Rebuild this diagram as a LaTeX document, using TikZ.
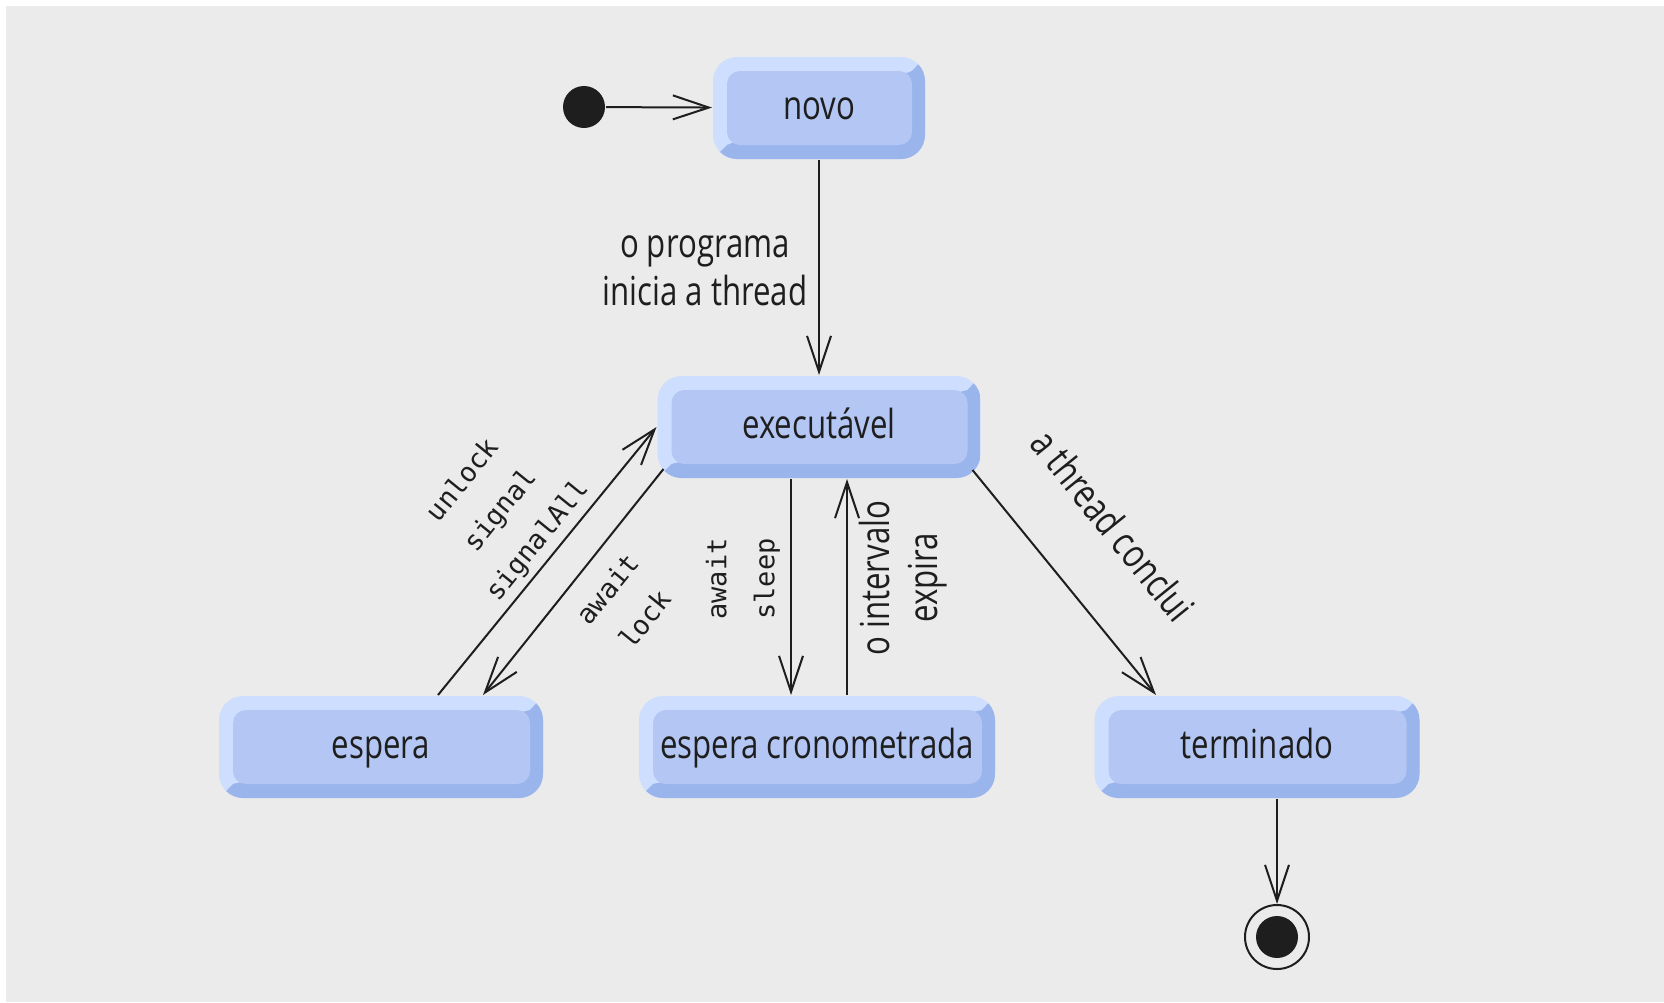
\documentclass[tikz,border=0pt]{standalone}
\usepackage{fontspec}
\usepackage{tikz}
\usetikzlibrary{arrows.meta}

\newfontfamily\rotsans{Open Sans}[FakeStretch=0.78]
\newfontfamily\rotmono{DejaVu Sans Mono}

\definecolor{fundo}{HTML}{EBEBEB}
\definecolor{claro}{HTML}{CDDEFE}
\definecolor{medio}{HTML}{B3C6F4}
\definecolor{escuro}{HTML}{99B5EC}
\definecolor{negro}{HTML}{1E1E1E}

\tikzset{
  estado/.style={shape = rectangle, rounded corners = 24pt, minimum height = 102pt, inner sep = 0pt,
    text height = 31pt, text depth = 9pt,
    fill = claro, font = \rotsans\fontsize{40}{48}\selectfont,
    path picture = {
      \fill[escuro, sharp corners] (path picture bounding box.south west) -- ++(14pt,14pt)
        -- ([shift={(-13pt,-14pt)}]path picture bounding box.north east)
        -- (path picture bounding box.north east) -- (path picture bounding box.south east) -- cycle;
      \fill[medio, rounded corners = 13pt] ([shift={(14pt,-14pt)}]path picture bounding box.north west)
        rectangle ([shift={(-13pt,14pt)}]path picture bounding box.south east);
    }},
  rotulo/.style={font = \rotsans\fontsize{40}{48}\selectfont, align = center, inner sep = 0pt},
  codigo/.style={font = \rotmono\fontsize{27}{48}\selectfont, align = center, inner sep = 0pt}
}

\begin{document}
\begin{tikzpicture}[x = 1pt, y = -1pt, line width = 2pt, color = negro,
  >={Straight Barb[length=36pt,width=24pt]}]
\useasboundingbox (0,0) rectangle (1664,1002);
\fill[white] (0,0) rectangle (1664,1002);
\fill[fundo] (6,6) rectangle (1664,1002);

\node (ini) at (584,107) [shape = circle, fill = negro, minimum size = 42pt, inner sep = 0pt] {};
\node (novo) at (819,108) [estado, minimum width = 212pt] {novo};
\node (exec) at (819,427) [estado, minimum width = 323pt] {executável};
\node (espera) at (381,747) [estado, minimum width = 324pt] {espera};
\node (crono) at (817,747) [estado, minimum width = 356pt] {espera cronometrada};
\node (term) at (1257,747) [estado, minimum width = 325pt] {terminado};
\node (fim) at (1277,937) [shape = circle, draw = negro, minimum size = 64pt, inner sep = 0pt,
  path picture = {\fill[negro] (path picture bounding box.center) circle (21pt);}] {};

\node (lprog) at (705,271) [rotulo] {o programa\\inicia a thread};
\node (lsinal) at (501,511) [codigo, rotate = 51] {unlock\\signal\\signalAll};
\node (lawait) at (626,604) [codigo, rotate = 51] {await\\lock};
\node (lsleep) at (743,579) [codigo, rotate = 90] {await\\sleep};
\node (lint) at (903,578) [rotulo, rotate = 90] {o intervalo\\expira};
\node (lfim) at (1113,525) [rotulo, rotate = -51] {a thread conclui};

\path [->] (ini) edge (novo);
\path [->] (novo) edge (exec);
\path [->] ([shift={(7pt,10pt)}]exec.south west) edge ([xshift=102pt]espera.north);
\path [->] ([xshift=57pt]espera.north) edge (exec.west);
\path [->] ([xshift=-28pt]exec.south) edge ([xshift=-26pt]crono.north);
\path [->] ([xshift=30pt]crono.north) edge ([xshift=28pt]exec.south);
\path [->] ([shift={(-9pt,9pt)}]exec.south east) edge ([xshift=-101pt]term.north);
\path [->] ([xshift=20pt]term.south) edge (fim);

\end{tikzpicture}
\end{document}
